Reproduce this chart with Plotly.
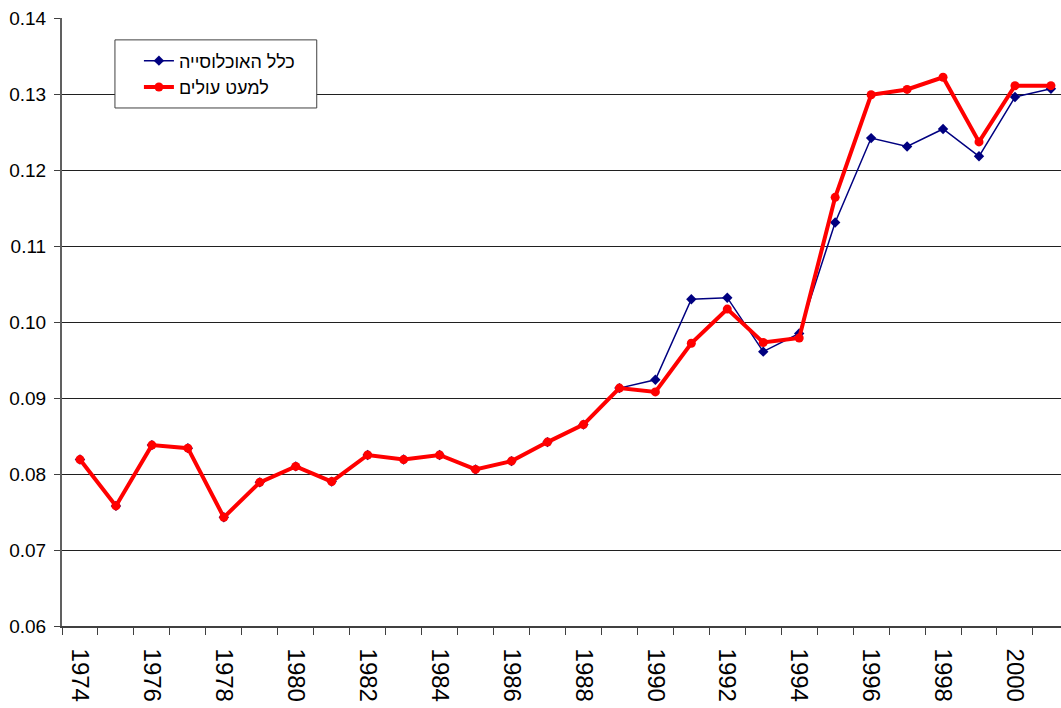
import plotly.graph_objects as go

# Years and the two series
years = list(range(1974, 2002))

total_pop = [0.0819, 0.0758, 0.0838, 0.0834, 0.0743, 0.0789, 0.0810, 0.0790,
             0.0825, 0.0819, 0.0825, 0.0806, 0.0817, 0.0842, 0.0865, 0.0913,
             0.0924, 0.1030, 0.1032, 0.0961, 0.0985, 0.1131, 0.1242, 0.1231,
             0.1254, 0.1218, 0.1296, 0.1307]

excl_immigrants = [0.0819, 0.0758, 0.0838, 0.0834, 0.0743, 0.0789, 0.0810, 0.0790,
                   0.0825, 0.0819, 0.0825, 0.0806, 0.0817, 0.0842, 0.0865, 0.0913,
                   0.0908, 0.0972, 0.1017, 0.0973, 0.0979, 0.1164, 0.1299, 0.1306,
                   0.1322, 0.1237, 0.1311, 0.1311]

series_names = ["כלל האוכלוסייה", "למעט עולים"]
tick_years = list(range(1974, 2002, 2))

fig = go.Figure()

fig.add_trace(go.Scatter(
    x=years, y=total_pop, name=series_names[0],
    mode="lines+markers",
    line=dict(color="#000080", width=1.5),
    marker=dict(symbol="diamond", size=8, color="#000080"),
))

fig.add_trace(go.Scatter(
    x=years, y=excl_immigrants, name=series_names[1],
    mode="lines+markers",
    line=dict(color="#FF0000", width=4),
    marker=dict(symbol="circle", size=9, color="#FF0000"),
))

# legend frame drawn as a shape so its size matches the original box
fig.add_shape(type="rect", xref="paper", yref="paper",
              x0=0.053, x1=0.255, y0=0.852, y1=0.964,
              line=dict(color="#404040", width=1), fillcolor="white",
              layer="above")

fig.update_layout(
    width=1061, height=708,
    margin=dict(l=62, r=0, t=18, b=82),
    paper_bgcolor="white",
    plot_bgcolor="white",
    font=dict(family="Liberation Sans, Arial, sans-serif", size=19, color="black"),
    legend=dict(
        x=0.077, y=0.908, xanchor="left", yanchor="middle",
        bgcolor="rgba(0,0,0,0)", borderwidth=0,
        font=dict(size=18),
        itemwidth=30,
    ),
)

fig.update_xaxes(
    range=[1973.5, 2001.28],
    tickvals=tick_years,
    ticktext=[str(y) for y in tick_years],
    tickangle=90,
    tickfont=dict(size=24),
    ticks="",
    ticklabelstandoff=16,
    showgrid=False,
    showline=True, linecolor="#404040", linewidth=1.5,
    minor=dict(tick0=1973.5, dtick=1, ticks="outside", ticklen=7,
               tickcolor="#404040", showgrid=False),
    zeroline=False,
)

fig.update_yaxes(
    range=[0.06, 0.14],
    dtick=0.01,
    tickformat=".2f",
    ticks="outside", ticklen=6, tickcolor="#404040",
    ticklabelstandoff=4,
    showgrid=True, gridcolor="#202020", gridwidth=1,
    showline=True, linecolor="#606060", linewidth=2,
    zeroline=False,
)

fig.write_html("out.html", config={"displayModeBar": False})

# remove the browser's default body margin so the figure sits at the page corner
with open("out.html", encoding="utf-8") as f:
    html = f.read()
html = html.replace("<body>", '<body style="margin:0">', 1)
with open("out.html", "w", encoding="utf-8") as f:
    f.write(html)
